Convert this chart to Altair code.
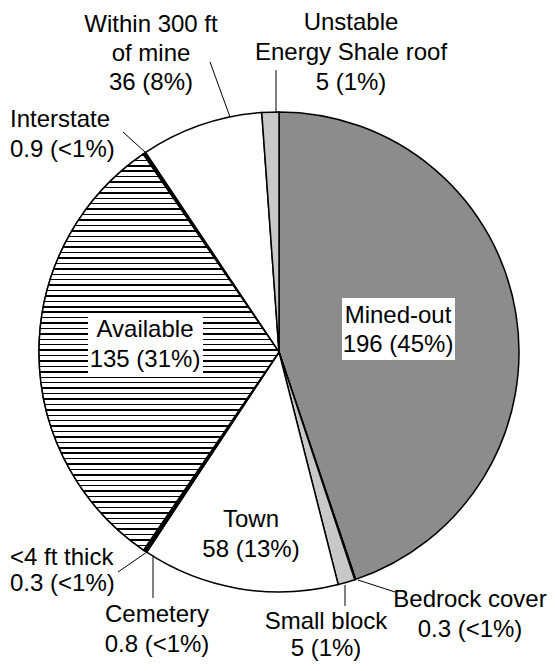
import altair as alt
import pandas as pd

# ---------------- data ----------------
categories = ["Mined-out", "Bedrock cover", "Small block", "Town", "Cemetery",
              "<4 ft thick", "Available", "Interstate", "Within 300 ft of mine",
              "Unstable Energy Shale roof"]
label_names = ["Mined-out", "Bedrock cover", "Small block", "Town", "Cemetery",
               "<4 ft thick", "Available", "Interstate", "Within 300 ft\nof mine",
               "Unstable\nEnergy Shale roof"]
values = [196, 0.3, 5, 58, 0.8, 0.3, 135, 0.9, 36, 5]
percents = ["45%", "<1%", "1%", "13%", "<1%", "<1%", "31%", "<1%", "8%", "1%"]

# ---------------- styles / layout ----------------
fills = ["#8c8c8c", "#000000", "#c8c8c8", "#ffffff", "#000000",
         "#000000", "#ffffff", "#000000", "#ffffff", "#c8c8c8"]
W, H = 539, 655
CX, CY, R = 271, 344, 240          # pie centre (plot px) and radius
FONT = "Liberation Sans"
FS = 24

# label anchor: (x, first baseline, align, line spacing) in page pixels
label_pos = {
    "Mined-out": (398, 323, "center", 29),
    "Bedrock cover": (470, 607, "center", 30),
    "Small block": (326, 629, "center", 27),
    "Town": (251, 527, "center", 30),
    "Cemetery": (157, 622, "center", 30),
    "<4 ft thick": (10, 565, "left", 26),
    "Available": (145, 337, "center", 30),
    "Interstate": (10, 127, "left", 30),
    "Within 300 ft of mine": (151, 32, "center", 29),
    "Unstable Energy Shale roof": (351, 30, "center", 30),
}
leaders = [  # (x1, y1, x2, y2) page pixels
    (210, 62, 230, 117),
    (276, 70, 276, 113),
    (123, 132, 145, 152),
    (118, 572, 147, 552),
    (153, 555, 153, 598),
    (345, 585, 345, 606),
    (358, 580, 395, 592),
]
boxes = [  # white label backgrounds (x1, y1, x2, y2) page pixels
    (342, 298, 455, 360),
    (88, 313, 203, 377),
]

pie_df = pd.DataFrame({"key": categories, "value": values,
                       "order": list(range(len(categories)))})

rows = []
for cat, name, v, p in zip(categories, label_names, values, percents):
    x, y0, al, sp = label_pos[cat]
    lines = name.split("\n") + [f"{v:g} ({p})"]
    for i, t in enumerate(lines):
        rows.append({"text": t, "px": x, "py": y0 + i * sp, "align": al})
text_df = pd.DataFrame(rows)
lead_df = pd.DataFrame(leaders, columns=["px", "py", "px2", "py2"])
box_df = pd.DataFrame(boxes, columns=["px", "py", "px2", "py2"])

xs = alt.Scale(domain=[8, 8 + W], nice=False, zero=False)
ys = alt.Scale(domain=[8 + H, 8], nice=False, zero=False)

base = alt.Chart(pie_df).transform_joinaggregate(
    total="sum(value)"
).transform_window(
    cum="sum(value)", sort=[alt.SortField("order")], frame=[None, 0]
).transform_calculate(
    t0="2*PI*(datum.cum-datum.value)/datum.total",
    t1="2*PI*datum.cum/datum.total",
)

pie = base.mark_arc(radius=R, stroke="black", strokeWidth=1.5).encode(
    theta=alt.Theta("t0:Q", scale=None),
    theta2="t1:Q",
    color=alt.Color("key:N", scale=alt.Scale(domain=categories, range=fills), legend=None),
    x=alt.value(CX), y=alt.value(CY),
)

# horizontal hatching for "Available" via a hard-stop linear gradient
N, f = 73, 0.27
stops = []
for i in range(N):
    stops += [alt.GradientStop(color="black", offset=i / N),
              alt.GradientStop(color="black", offset=(i + f) / N),
              alt.GradientStop(color="white", offset=(i + f) / N),
              alt.GradientStop(color="white", offset=(i + 1) / N)]
hatch_fill = alt.LinearGradient(gradient="linear", stops=stops, x1=0, x2=0, y1=0, y2=1)

hatch = base.transform_filter(alt.datum.key == "Available").mark_arc(
    radius=R, fill=hatch_fill, stroke="black", strokeWidth=1.5
).encode(
    theta=alt.Theta("t0:Q", scale=None),
    theta2="t1:Q",
    x=alt.value(CX), y=alt.value(CY),
)

box = alt.Chart(box_df).mark_rect(fill="white").encode(
    x=alt.X("px:Q", scale=xs, axis=None), x2="px2:Q",
    y=alt.Y("py:Q", scale=ys, axis=None), y2="py2:Q",
)

lead = alt.Chart(lead_df).mark_rule(color="black", strokeWidth=1).encode(
    x=alt.X("px:Q", scale=xs, axis=None), x2="px2:Q",
    y=alt.Y("py:Q", scale=ys, axis=None), y2="py2:Q",
)

def text_layer(al):
    return alt.Chart(text_df).transform_filter(alt.datum.align == al).mark_text(
        align=al, baseline="alphabetic", font=FONT, fontSize=FS, color="black"
    ).encode(
        x=alt.X("px:Q", scale=xs, axis=None),
        y=alt.Y("py:Q", scale=ys, axis=None),
        text="text:N",
    )

chart = alt.layer(pie, hatch, lead, box, text_layer("center"), text_layer("left")).properties(
    width=W, height=H, padding=0, autosize=alt.AutoSizeParams(type="none")
).configure_view(stroke=None)

chart.save("out.html", embed_options={"renderer": "svg", "actions": False})
